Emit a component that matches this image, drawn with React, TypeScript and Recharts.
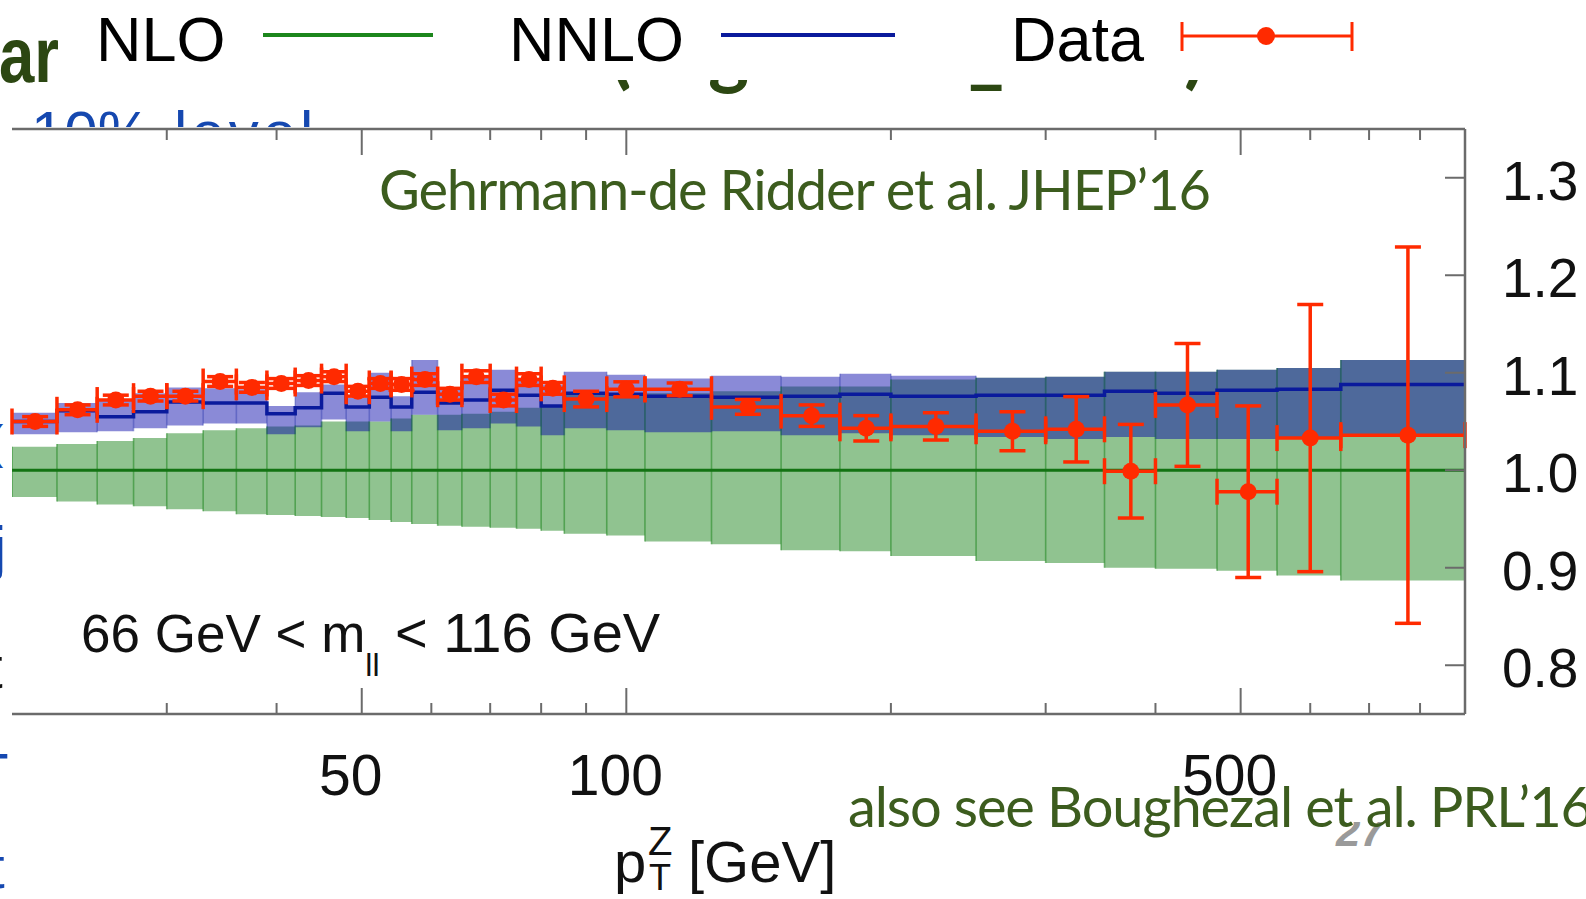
import React from "react";
import {
  ComposedChart,
  XAxis,
  YAxis,
  Area,
  Line,
  Scatter,
  ErrorBar,
  ReferenceLine,
} from "recharts";

const WIDTH = 1586;
const HEIGHT = 899;
const PLOT_TOP = 129;
const PLOT_LEFT = 12;
const Y_AXIS_W = 121;
const X_AXIS_H = 185;

const FRAME = "#6b6b6b";
const RED = "#ff2a00";
const NLO_FILL = "#2a8c2a";
const NLO_LINE = "#137313";
const NNLO_FILL = "#0000a8";
const NNLO_BLUE = "#0a1a9c";
const NOTE_GREEN = "#3c5c1e";
const TITLE_GREEN = "#2c4712";
const SANS = "'Liberation Sans', Arial, sans-serif";
const HUMANIST = "Lato, 'Open Sans', sans-serif";

// pT^Z bin edges [GeV]
const binEdges = [
  20, 22.5, 25, 27.5, 30, 33, 36, 39, 42, 45, 48, 51, 54, 57, 61, 65, 70, 75, 80, 85, 95, 105, 125,
  150, 175, 200, 250, 300, 350, 400, 470, 550, 650, 900,
];

// NLO prediction (ratio to itself) and its scale band
const nloCentral = [
  1.0, 1.0, 1.0, 1.0, 1.0, 1.0, 1.0, 1.0, 1.0, 1.0, 1.0, 1.0, 1.0, 1.0, 1.0, 1.0, 1.0, 1.0, 1.0,
  1.0, 1.0, 1.0, 1.0, 1.0, 1.0, 1.0, 1.0, 1.0, 1.0, 1.0, 1.0, 1.0, 1.0,
];
const nloLow = [
  0.9725, 0.968, 0.965, 0.963, 0.96, 0.958, 0.955, 0.954, 0.953, 0.952, 0.951, 0.949, 0.947, 0.945,
  0.943, 0.942, 0.941, 0.94, 0.938, 0.935, 0.933, 0.927, 0.924, 0.918, 0.917, 0.912, 0.907, 0.905,
  0.9, 0.899, 0.897, 0.892, 0.887,
];
const nloHigh = [
  1.024, 1.027, 1.03, 1.033, 1.038, 1.041, 1.043, 1.045, 1.046, 1.05, 1.05, 1.05, 1.053, 1.057,
  1.057, 1.058, 1.06, 1.064, 1.066, 1.079, 1.077, 1.079, 1.081, 1.086, 1.086, 1.093, 1.095, 1.096,
  1.101, 1.101, 1.103, 1.105, 1.113,
];

// NNLO / NLO and its scale band
const nnloCentral = [
  1.05, 1.061, 1.055, 1.06, 1.07, 1.069, 1.069, 1.058, 1.064, 1.079, 1.065, 1.075, 1.065, 1.08,
  1.069, 1.072, 1.082, 1.077, 1.066, 1.079, 1.078, 1.076, 1.075, 1.076, 1.078, 1.076, 1.077, 1.077,
  1.081, 1.079, 1.082, 1.083, 1.088,
];
const nnloLow = [
  1.037, 1.039, 1.04, 1.043, 1.046, 1.048, 1.048, 1.037, 1.044, 1.052, 1.04, 1.05, 1.04, 1.057,
  1.041, 1.043, 1.048, 1.045, 1.036, 1.043, 1.041, 1.039, 1.04, 1.036, 1.038, 1.036, 1.034, 1.032,
  1.034, 1.032, 1.032, 1.032, 1.034,
];
const nnloHigh = [
  1.059, 1.069, 1.072, 1.079, 1.085, 1.084, 1.083, 1.066, 1.08, 1.088, 1.074, 1.1, 1.076, 1.113,
  1.085, 1.095, 1.103, 1.095, 1.088, 1.101, 1.098, 1.094, 1.097, 1.096, 1.099, 1.097, 1.095, 1.096,
  1.101, 1.101, 1.103, 1.105, 1.113,
];

// measured data / NLO with total uncertainty
const dataValue = [
  1.05, 1.062, 1.072, 1.076, 1.076, 1.091, 1.085, 1.089, 1.092, 1.096, 1.081, 1.089, 1.088, 1.093,
  1.078, 1.096, 1.072, 1.093, 1.084, 1.073, 1.083, 1.083, 1.065, 1.056, 1.043, 1.045, 1.04, 1.042,
  0.999, 1.067, 0.978, 1.033, 1.036,
];
const dataError = [
  0.005, 0.005, 0.005, 0.005, 0.005, 0.005, 0.005, 0.005, 0.005, 0.005, 0.005, 0.005, 0.006, 0.006,
  0.006, 0.006, 0.006, 0.006, 0.006, 0.008, 0.0077, 0.0065, 0.0076, 0.011, 0.013, 0.014, 0.02,
  0.0335, 0.048, 0.063, 0.088, 0.137, 0.193,
];

const xTicks = [30, 40, 50, 60, 70, 80, 90, 100, 200, 300, 400, 500, 600, 700, 800];
const xLabelled = [50, 100, 500];
const yTicks = [0.8, 0.9, 1.0, 1.1, 1.2, 1.3];
const yDomain: [number, number] = [0.75, 1.35];

const nBins = binEdges.length - 1;
const inBin = (arr: number[], i: number) => arr[Math.min(i, nBins - 1)];

// one row per bin edge; stepAfter carries each bin to the next edge
const stepRows = binEdges.map((x, i) => ({
  x,
  nloBand: [inBin(nloLow, i), inBin(nloHigh, i)],
  nnloBand: [inBin(nnloLow, i), inBin(nnloHigh, i)],
  nlo: inBin(nloCentral, i),
  nnlo: inBin(nnloCentral, i),
}));

// vertical strokes on the bin boundaries of a band, split by null rows
function edgeRows(low: number[], high: number[]) {
  return binEdges.flatMap((x, i) => {
    const l = Math.max(i - 1, 0);
    const r = Math.min(i, nBins - 1);
    return [
      { x, y: Math.min(low[l], low[r]) },
      { x, y: Math.max(high[l], high[r]) },
      { x, y: null },
    ];
  });
}
const nloEdges = edgeRows(nloLow, nloHigh);
const nnloEdges = edgeRows(nnloLow, nnloHigh);

const dataRows = dataValue.map((y, i) => {
  const lo = binEdges[i];
  const hi = binEdges[i + 1];
  const x = (lo + hi) / 2;
  return { x, y, xErr: [x - lo, hi - x], yErr: dataError[i] };
});

function XTick(props: any) {
  const { x, y, payload } = props;
  const major = xLabelled.includes(payload.value);
  const len = major ? 26 : 11;
  return (
    <g>
      <line x1={x} x2={x} y1={y} y2={y - len} stroke={FRAME} strokeWidth={2} />
      <line x1={x} x2={x} y1={PLOT_TOP} y2={PLOT_TOP + len} stroke={FRAME} strokeWidth={2} />
      {major && (
        <text x={x - 11} y={y + 81} textAnchor="middle" fontFamily={SANS} fontSize={57} fill="#111">
          {payload.value}
        </text>
      )}
    </g>
  );
}

function YTick(props: any) {
  const { x, y, payload } = props;
  return (
    <g>
      <line x1={x - 20} x2={x} y1={y} y2={y} stroke={FRAME} strokeWidth={2} />
      <text x={x + 37} y={y + 22} fontFamily={SANS} fontSize={55} fill="#111">
        {payload.value.toFixed(1)}
      </text>
    </g>
  );
}

const layer: React.CSSProperties = { position: "absolute", left: 0, top: 0 };

export default function App() {
  return (
    <div
      style={{
        position: "absolute",
        left: 0,
        top: 0,
        width: WIDTH,
        height: HEIGHT,
        background: "#fff",
        overflow: "hidden",
      }}
    >
      {/* slide text peeking out around the pasted plot */}
      <svg style={layer} width={WIDTH} height={HEIGHT}>
        <text
          x={-1}
          y={82}
          fontFamily={SANS}
          fontWeight={700}
          fontSize={78}
          fill={TITLE_GREEN}
          textLength={60}
          lengthAdjust="spacingAndGlyphs"
        >
          ar
        </text>
        <g fill={TITLE_GREEN} fontFamily={HUMANIST} fontWeight={700} fontSize={78}>
          <text x={610} y={79}>(</text>
          <text x={708} y={79}>g</text>
          <text x={968} y={79}>_</text>
          <text x={1184} y={79}>)</text>
        </g>
        <rect x={58} y={0} width={WIDTH - 58} height={80} fill="#fff" />
        <g fill="#1548b0" fontFamily={SANS} fontSize={60}>
          <text x={31} y={153}>10%</text>
          <text x={174} y={153} letterSpacing={4}>level</text>
          <text x={-12} y={458} fontSize={46}>(</text>
          <text x={-7} y={568}>j</text>
          <text x={-28} y={795}>T</text>
          <text x={-12} y={888}>t</text>
        </g>
        <g fill="#111" fontFamily={SANS} fontSize={60}>
          <text x={-14} y={688}>t</text>
        </g>
        <rect x={PLOT_LEFT} y={127} width={WIDTH - PLOT_LEFT} height={HEIGHT - 127} fill="#fff" />
      </svg>

      <div style={layer}>
        <ComposedChart
          width={WIDTH}
          height={HEIGHT}
          data={stepRows}
          margin={{ top: PLOT_TOP, right: 0, bottom: 0, left: PLOT_LEFT }}
        >
          <XAxis
            dataKey="x"
            type="number"
            scale="log"
            domain={[20, 900]}
            allowDataOverflow
            ticks={xTicks}
            interval={0}
            tick={(p: any) => <XTick {...p} />}
            tickLine={false}
            tickSize={0}
            tickMargin={0}
            height={X_AXIS_H}
            axisLine={{ stroke: FRAME, strokeWidth: 2.5 }}
          />
          <YAxis
            orientation="right"
            type="number"
            domain={yDomain}
            allowDataOverflow
            ticks={yTicks}
            interval={0}
            tick={(p: any) => <YTick {...p} />}
            tickLine={false}
            tickSize={0}
            tickMargin={0}
            width={Y_AXIS_W}
            axisLine={{ stroke: FRAME, strokeWidth: 2.5 }}
          />
          <ReferenceLine y={yDomain[1]} stroke={FRAME} strokeWidth={2.5} />

          <Area
            type="stepAfter"
            dataKey="nloBand"
            stroke="none"
            fill={NLO_FILL}
            fillOpacity={0.52}
            isAnimationActive={false}
          />
          <Area
            type="stepAfter"
            dataKey="nnloBand"
            stroke="none"
            fill={NNLO_FILL}
            fillOpacity={0.46}
            isAnimationActive={false}
          />
          <Line
            data={nloEdges}
            dataKey="y"
            type="linear"
            stroke={NLO_FILL}
            strokeOpacity={0.6}
            strokeWidth={1.6}
            dot={false}
            connectNulls={false}
            isAnimationActive={false}
          />
          <Line
            data={nnloEdges}
            dataKey="y"
            type="linear"
            stroke={NNLO_BLUE}
            strokeOpacity={0.3}
            strokeWidth={1.6}
            dot={false}
            connectNulls={false}
            isAnimationActive={false}
          />
          <Line
            dataKey="nlo"
            type="stepAfter"
            stroke={NLO_LINE}
            strokeWidth={3}
            dot={false}
            isAnimationActive={false}
          />
          <Line
            dataKey="nnlo"
            type="stepAfter"
            stroke={NNLO_BLUE}
            strokeWidth={3.5}
            dot={false}
            isAnimationActive={false}
          />
          <Scatter
            data={dataRows}
            dataKey="y"
            fill={RED}
            isAnimationActive={false}
            shape={(p: any) => <circle cx={p.cx} cy={p.cy} r={8.5} fill={RED} />}
          >
            <ErrorBar dataKey="xErr" direction="x" width={13} stroke={RED} strokeWidth={3.5} />
            <ErrorBar dataKey="yErr" direction="y" width={13} stroke={RED} strokeWidth={3.5} />
          </Scatter>
        </ComposedChart>
      </div>

      {/* legend, annotations and axis title */}
      <svg style={{ ...layer, pointerEvents: "none" }} width={WIDTH} height={HEIGHT}>
        <g fontFamily={SANS} fontSize={63} fill="#000">
          <text x={96} y={61}>NLO</text>
          <text x={509} y={61}>NNLO</text>
          <text x={1011} y={61}>Data</text>
        </g>
        <line x1={263} x2={433} y1={35} y2={35} stroke="#1c861c" strokeWidth={4} />
        <line x1={721} x2={895} y1={35} y2={35} stroke={NNLO_BLUE} strokeWidth={4} />
        <line x1={1182} x2={1352} y1={36} y2={36} stroke={RED} strokeWidth={3} />
        <line x1={1182} x2={1182} y1={22} y2={51} stroke={RED} strokeWidth={3} />
        <line x1={1352} x2={1352} y1={22} y2={51} stroke={RED} strokeWidth={3} />
        <circle cx={1266} cy={36} r={9} fill={RED} />

        <text x={379} y={210} fontFamily={HUMANIST} fontSize={56} fill={NOTE_GREEN} textLength={832}>
          Gehrmann-de Ridder et al. JHEP’16
        </text>

        <text x={81} y={652} fontFamily={SANS} fontSize={53} fill="#111">
          66 GeV &lt; m
          <tspan fontSize={32} dy={24}>ll</tspan>
          <tspan dy={-24} fontSize={56}>{" < 116 GeV"}</tspan>
        </text>

        <g fontFamily={SANS} fill="#111">
          <text x={614} y={882} fontSize={58}>p</text>
          <text x={648} y={855} fontSize={40}>Z</text>
          <text x={649} y={890} fontSize={36}>T</text>
          <text x={688} y={882} fontSize={58}>[GeV]</text>
        </g>

        <clipPath id="page-number-clip">
          <rect x={1300} y={822} width={120} height={40} />
        </clipPath>
        <text
          x={1336}
          y={846}
          fontFamily={SANS}
          fontStyle="italic"
          fontWeight={700}
          fontSize={44}
          fill="#9a9a9a"
          clipPath="url(#page-number-clip)"
        >
          27
        </text>
        <text x={848} y={827} fontFamily={HUMANIST} fontSize={56} fill={NOTE_GREEN} textLength={745}>
          also see Boughezal et al. PRL’16
        </text>
      </svg>
    </div>
  );
}
